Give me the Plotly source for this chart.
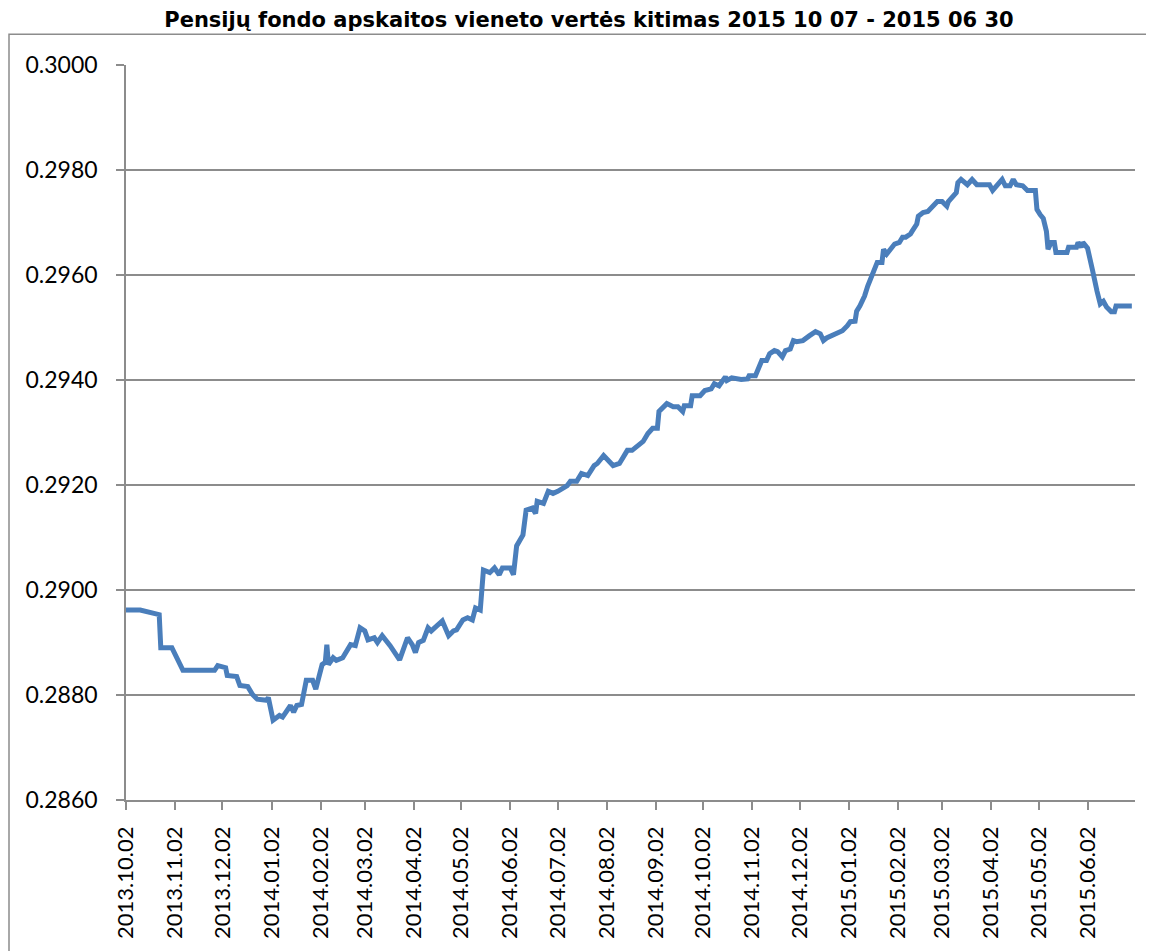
import plotly.graph_objects as go

title_text = "Pensijų fondo apskaitos vieneto vertės kitimas 2015 10 07 - 2015 06 30"

dates = [
    "2013-10-02", "2013-10-11", "2013-10-23", "2013-10-24", "2013-10-31", "2013-11-04", "2013-11-07",
    "2013-11-27", "2013-11-29", "2013-12-04", "2013-12-05", "2013-12-11", "2013-12-13", "2013-12-18",
    "2013-12-21", "2013-12-24", "2013-12-30", "2013-12-31", "2014-01-03", "2014-01-07", "2014-01-09",
    "2014-01-14", "2014-01-16", "2014-01-18", "2014-01-21", "2014-01-24", "2014-01-28", "2014-01-30",
    "2014-02-03", "2014-02-05", "2014-02-06", "2014-02-07", "2014-02-10", "2014-02-12", "2014-02-16",
    "2014-02-21", "2014-02-24", "2014-02-27", "2014-03-02", "2014-03-04", "2014-03-08", "2014-03-10",
    "2014-03-13", "2014-03-18", "2014-03-21", "2014-03-24", "2014-03-29", "2014-04-01", "2014-04-03",
    "2014-04-05", "2014-04-08", "2014-04-11", "2014-04-13", "2014-04-17", "2014-04-20", "2014-04-24",
    "2014-04-27", "2014-04-29", "2014-05-03", "2014-05-06", "2014-05-09", "2014-05-11", "2014-05-14",
    "2014-05-16", "2014-05-20", "2014-05-23", "2014-05-26", "2014-05-28", "2014-06-02", "2014-06-04",
    "2014-06-06", "2014-06-10", "2014-06-12", "2014-06-16", "2014-06-18", "2014-06-19", "2014-06-23",
    "2014-06-26", "2014-06-29", "2014-07-02", "2014-07-08", "2014-07-10", "2014-07-14", "2014-07-17",
    "2014-07-21", "2014-07-25", "2014-07-27", "2014-07-31", "2014-08-03", "2014-08-06", "2014-08-10",
    "2014-08-13", "2014-08-15", "2014-08-18", "2014-08-21", "2014-08-25", "2014-08-28", "2014-08-31",
    "2014-09-03", "2014-09-04", "2014-09-09", "2014-09-13", "2014-09-16", "2014-09-19", "2014-09-20",
    "2014-09-24", "2014-09-25", "2014-09-30", "2014-10-03", "2014-10-07", "2014-10-09", "2014-10-12",
    "2014-10-16", "2014-10-17", "2014-10-20", "2014-10-23", "2014-10-26", "2014-10-30", "2014-10-31",
    "2014-11-04", "2014-11-06", "2014-11-08", "2014-11-11", "2014-11-13", "2014-11-16", "2014-11-18",
    "2014-11-21", "2014-11-23", "2014-11-26", "2014-11-28", "2014-11-30", "2014-12-04", "2014-12-08",
    "2014-12-12", "2014-12-15", "2014-12-17", "2014-12-19", "2014-12-22", "2014-12-25", "2014-12-29",
    "2015-01-01", "2015-01-03", "2015-01-06", "2015-01-07", "2015-01-09", "2015-01-12", "2015-01-14",
    "2015-01-17", "2015-01-18", "2015-01-20", "2015-01-23", "2015-01-24", "2015-01-26", "2015-01-28",
    "2015-01-31", "2015-02-03", "2015-02-05", "2015-02-07", "2015-02-10", "2015-02-11", "2015-02-14",
    "2015-02-15", "2015-02-18", "2015-02-21", "2015-02-24", "2015-02-27", "2015-03-02", "2015-03-05",
    "2015-03-06", "2015-03-09", "2015-03-11", "2015-03-12", "2015-03-14", "2015-03-18", "2015-03-21",
    "2015-03-24", "2015-04-01", "2015-04-03", "2015-04-06", "2015-04-09", "2015-04-11", "2015-04-14",
    "2015-04-16", "2015-04-18", "2015-04-22", "2015-04-25", "2015-04-30", "2015-05-01", "2015-05-03",
    "2015-05-05", "2015-05-07", "2015-05-08", "2015-05-10", "2015-05-12", "2015-05-13", "2015-05-20",
    "2015-05-21", "2015-05-26", "2015-05-27", "2015-05-29", "2015-05-30", "2015-05-31", "2015-06-02",
    "2015-06-05", "2015-06-07", "2015-06-08", "2015-06-10", "2015-06-12", "2015-06-14", "2015-06-17",
    "2015-06-19", "2015-06-20", "2015-06-30",
]

values = [
    0.28962, 0.28962, 0.28953, 0.28890, 0.28890, 0.28862, 0.28847,
    0.28847, 0.28856, 0.28852, 0.28837, 0.28835, 0.28818, 0.28816,
    0.28801, 0.28792, 0.28790, 0.28795, 0.28752, 0.28761, 0.28758,
    0.28780, 0.28767, 0.28780, 0.28782, 0.28828, 0.28828, 0.28811,
    0.28858, 0.28862, 0.28896, 0.28858, 0.28871, 0.28866, 0.28871,
    0.28896, 0.28894, 0.28928, 0.28922, 0.28905, 0.28909, 0.28900,
    0.28913, 0.28894, 0.28881, 0.28867, 0.28909, 0.28896, 0.28881,
    0.28900, 0.28904, 0.28928, 0.28922, 0.28934, 0.28941, 0.28913,
    0.28922, 0.28924, 0.28943, 0.28947, 0.28943, 0.28966, 0.28962,
    0.29038, 0.29033, 0.29042, 0.29029, 0.29042, 0.29042, 0.29029,
    0.29084, 0.29105, 0.29152, 0.29156, 0.29146, 0.29169, 0.29165,
    0.29188, 0.29184, 0.29188, 0.29199, 0.29207, 0.29207, 0.29222,
    0.29218, 0.29237, 0.29241, 0.29256, 0.29247, 0.29237, 0.29241,
    0.29256, 0.29266, 0.29266, 0.29273, 0.29283, 0.29298, 0.29308,
    0.29308, 0.29340, 0.29355, 0.29349, 0.29349, 0.29340, 0.29351,
    0.29351, 0.29370, 0.29370, 0.29380, 0.29383, 0.29393, 0.29389,
    0.29406, 0.29399, 0.29404, 0.29402, 0.29401, 0.29402, 0.29408,
    0.29408, 0.29425, 0.29437, 0.29437, 0.29450, 0.29456, 0.29454,
    0.29444, 0.29456, 0.29459, 0.29475, 0.29473, 0.29475, 0.29484,
    0.29492, 0.29488, 0.29475, 0.29480, 0.29484, 0.29488, 0.29494,
    0.29503, 0.29511, 0.29512, 0.29531, 0.29541, 0.29560, 0.29579,
    0.29602, 0.29615, 0.29624, 0.29624, 0.29649, 0.29640, 0.29649,
    0.29659, 0.29662, 0.29672, 0.29672, 0.29678, 0.29683, 0.29697,
    0.29712, 0.29719, 0.29721, 0.29729, 0.29740, 0.29740, 0.29731,
    0.29740, 0.29750, 0.29757, 0.29776, 0.29782, 0.29772, 0.29782,
    0.29772, 0.29772, 0.29761, 0.29772, 0.29782, 0.29770, 0.29770,
    0.29782, 0.29772, 0.29770, 0.29761, 0.29761, 0.29725, 0.29715,
    0.29708, 0.29683, 0.29649, 0.29662, 0.29662, 0.29643, 0.29643,
    0.29653, 0.29653, 0.29662, 0.29653, 0.29662, 0.29659, 0.29651,
    0.29611, 0.29579, 0.29569, 0.29545, 0.29550, 0.29539, 0.29530,
    0.29530, 0.29541, 0.29541,
]

tick_dates = [
    "2013-10-02", "2013-11-02", "2013-12-02", "2014-01-02", "2014-02-02", "2014-03-02",
    "2014-04-02", "2014-05-02", "2014-06-02", "2014-07-02", "2014-08-02", "2014-09-02",
    "2014-10-02", "2014-11-02", "2014-12-02", "2015-01-02", "2015-02-02", "2015-03-02",
    "2015-04-02", "2015-05-02", "2015-06-02",
]
tick_labels = [d.replace("-", ".") for d in tick_dates]

y_ticks = [0.2860, 0.2880, 0.2900, 0.2920, 0.2940, 0.2960, 0.2980, 0.3000]

LINE_COLOR = "#4a7ebb"
GRID_COLOR = "#8c8c8c"
FONT = "Lato, 'Open Sans', sans-serif"

# page body has an 8px margin, so the figure is drawn from (8, 8)
W, H = 1146, 943
ML, MR, MT, MB = 118, 19, 57, 148
PW = W - ML - MR
PH = H - MT - MB

fig = go.Figure()
fig.add_trace(go.Scatter(
    x=dates, y=values, mode="lines",
    line=dict(color=LINE_COLOR, width=5),
    showlegend=False,
))

fig.update_layout(
    width=W, height=H,
    margin=dict(l=ML, r=MR, t=MT, b=MB),
    paper_bgcolor="white", plot_bgcolor="white",
    font=dict(family=FONT, size=23, color="black"),
    title=dict(
        text="<b>" + title_text + "</b>",
        font=dict(family="DejaVu Sans", size=21, color="black"),
        x=581 / W, xref="container", xanchor="center",
        y=1 - 12 / H, yref="container", yanchor="middle",
    ),
    xaxis=dict(
        type="date",
        range=["2013-10-02", "2015-07-02"],
        tickvals=tick_dates, ticktext=tick_labels,
        tickangle=-90,
        showgrid=False,
        showline=True, linecolor=GRID_COLOR, linewidth=1.5,
        ticks="outside", ticklen=8, tickcolor=GRID_COLOR, tickwidth=1.5,
        tickfont=dict(family=FONT, size=22, color="black"),
        ticklabelstandoff=8,
        zeroline=False,
    ),
    yaxis=dict(
        range=[0.2860, 0.3000],
        tickvals=y_ticks, tickformat=".4f",
        showgrid=True, gridcolor=GRID_COLOR, gridwidth=1.5,
        showline=True, linecolor=GRID_COLOR, linewidth=1.5,
        ticks="outside", ticklen=8, tickcolor=GRID_COLOR, tickwidth=1.5,
        tickfont=dict(family=FONT, size=23, color="black"),
        ticklabelstandoff=14,
        zeroline=False,
    ),
    shapes=[dict(
        type="rect", xref="paper", yref="paper",
        x0=(1 - ML) / PW, x1=(W + 20 - ML) / PW,
        y0=-(MB + 40) / PH, y1=(PH + MT - 26) / PH,
        line=dict(color=GRID_COLOR, width=1.5),
        fillcolor="rgba(0,0,0,0)", layer="below",
    )],
)

fig.write_html("out.html")
